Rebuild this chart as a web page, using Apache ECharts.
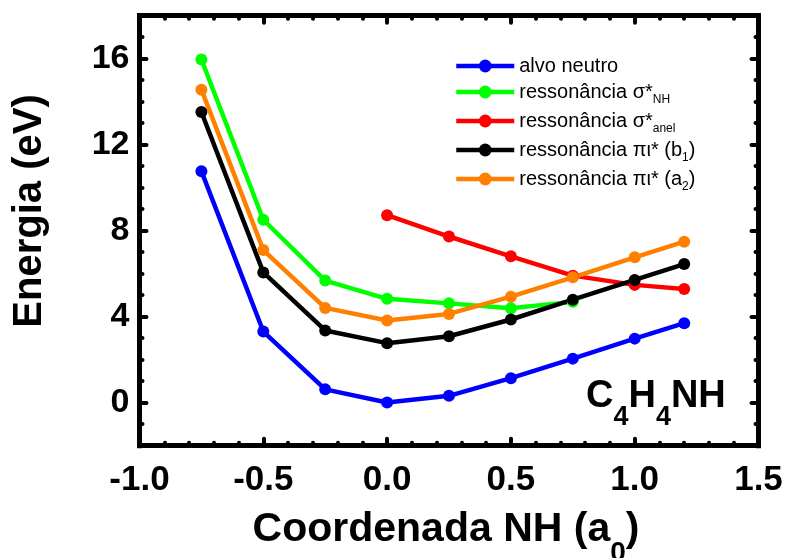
<!DOCTYPE html>
<html><head><meta charset="utf-8">
<script src="https://cdn.jsdelivr.net/npm/echarts@6/dist/echarts.min.js"></script>
<style>html,body{margin:0;padding:0;background:#fff}#c{width:789px;height:558px}</style>
</head><body><div id="c"></div>
<script>
// ---- data ----
const xMain = [-0.75, -0.5, -0.25, 0.0, 0.25, 0.5, 0.75, 1.0, 1.2];
const alvoNeutro = [10.77, 3.31, 0.62, 0.01, 0.32, 1.14, 2.05, 2.98, 3.70];
const xSigmaNH = [-0.75, -0.5, -0.25, 0.0, 0.25, 0.5, 0.75];
const sigmaNH = [15.96, 8.51, 5.68, 4.83, 4.62, 4.39, 4.69];
const xSigmaAnel = [0.0, 0.25, 0.5, 0.75, 1.0, 1.2];
const sigmaAnel = [8.72, 7.73, 6.81, 5.91, 5.48, 5.29];
const piB1 = [13.52, 6.06, 3.36, 2.77, 3.09, 3.87, 4.79, 5.71, 6.45];
const piA2 = [14.56, 7.10, 4.41, 3.82, 4.13, 4.93, 5.83, 6.76, 7.49];
const seriesNames = ['alvo neutro', 'ressonância σ*NH', 'ressonância σ*anel', 'ressonância πι* (b1)', 'ressonância πι* (a2)'];
const legendLabels = ['alvo neutro', 'ressonância σ*{s|NH}', 'ressonância σ*{s|anel}', 'ressonância πι* (b{s|1})', 'ressonância πι* (a{s|2})'];
const xTickLabels = [-1.0, -0.5, 0.0, 0.5, 1.0, 1.5];
const yTickLabels = [0, 4, 8, 12, 16];
const yMinorTicks = [-1, 1, 2, 3, 5, 6, 7, 9, 10, 11, 13, 14, 15, 17];

const FONT = 'Liberation Sans, Arial, Helvetica, sans-serif';
const zip = (xs, ys) => xs.map((x, i) => [x, ys[i]]);
const colors = ['#0000ff', '#00ff00', '#ff0000', '#000000', '#ff8000'];
const seriesData = [zip(xMain, alvoNeutro), zip(xSigmaNH, sigmaNH), zip(xSigmaAnel, sigmaAnel), zip(xMain, piB1), zip(xMain, piA2)];

const chart = echarts.init(document.getElementById('c'));
const tickLine = (w) => ({color: '#000', width: w, cap: 'round'});
const xBase = (pos, showLabel) => ({
  type: 'value', position: pos, min: -1, max: 1.5, interval: 0.5,
  axisLine: {show: true, onZero: false, lineStyle: {color: '#000', width: 5, cap: 'square'}},
  axisTick: {show: true, inside: true, length: 7, lineStyle: tickLine(4)},
  minorTick: {show: true, splitNumber: 5, length: 3, lineStyle: tickLine(4)},
  splitLine: {show: false}, minorSplitLine: {show: false},
  axisLabel: {show: showLabel, margin: 17, fontFamily: FONT, fontWeight: 'bold', fontSize: 35, color: '#000',
    formatter: v => xTickLabels.includes(+v) ? (+v).toFixed(1) : ''}
});
const yBase = (pos, major, showLine, showLabel) => ({
  type: 'value', position: pos, min: -2, max: 18, offset: 0,
  axisLine: {show: showLine, onZero: false, lineStyle: {color: '#000', width: 5, cap: 'square'}},
  axisTick: {show: true, inside: true, length: major ? 7 : 3, customValues: major ? yTickLabels : yMinorTicks, lineStyle: tickLine(4)},
  splitLine: {show: false},
  axisLabel: {show: showLabel, margin: 10, customValues: yTickLabels, fontFamily: FONT, fontWeight: 'bold', fontSize: 34, color: '#000'}
});

chart.setOption({
  animation: false,
  backgroundColor: '#fff',
  grid: {left: 139.5, right: 30.5, top: 15.7, bottom: 112.3, containLabel: false},
  xAxis: [xBase('bottom', true), xBase('top', false)],
  yAxis: [yBase('left', true, true, true), yBase('left', false, false, false), yBase('right', true, true, false), yBase('right', false, false, false)],
  legend: {
    orient: 'vertical', left: 454, top: 55, padding: 0, itemWidth: 58, itemHeight: 16, itemGap: 1,
    data: seriesNames,
    formatter: name => legendLabels[seriesNames.indexOf(name)],
    lineStyle: {width: 4.5},
    textStyle: {fontFamily: FONT, fontSize: 20, color: '#000', lineHeight: 22,
      rich: {s: {fontFamily: FONT, fontSize: 12, color: '#000', lineHeight: 22, padding: [16, 0, 0, 0]}}}
  },
  series: seriesNames.map((n, i) => ({
    name: n, type: 'line', data: seriesData[i], symbol: 'circle', symbolSize: 12,
    color: colors[i], lineStyle: {width: 4.5, color: colors[i]}, itemStyle: {color: colors[i]}
  })),
  graphic: [
    {type: 'text', x: 586, y: 397, style: {text: '{b|C}{s|4}{b|H}{s|4}{b|NH}', verticalAlign: 'middle',
      rich: {b: {fontFamily: FONT, fontWeight: 'bold', fontSize: 38, lineHeight: 42, fill: '#000'},
             s: {fontFamily: FONT, fontWeight: 'bold', fontSize: 27, lineHeight: 42, padding: [42, 0, 0, 0], fill: '#000'}}}},
    {type: 'text', x: 446, y: 530, style: {text: '{b|Coordenada NH (a}{s|0}{b|)}', align: 'center', verticalAlign: 'middle',
      rich: {b: {fontFamily: FONT, fontWeight: 'bold', fontSize: 41, lineHeight: 44, fill: '#000'},
             s: {fontFamily: FONT, fontWeight: 'bold', fontSize: 28, lineHeight: 44, padding: [46, 0, 0, 0], fill: '#000'}}}},
    {type: 'text', x: 30, y: 211, rotation: Math.PI / 2, style: {text: 'Energia (eV)', align: 'center', verticalAlign: 'middle',
      fontFamily: FONT, fontWeight: 'bold', fontSize: 40, fill: '#000'}}
  ]
});
</script></body></html>
